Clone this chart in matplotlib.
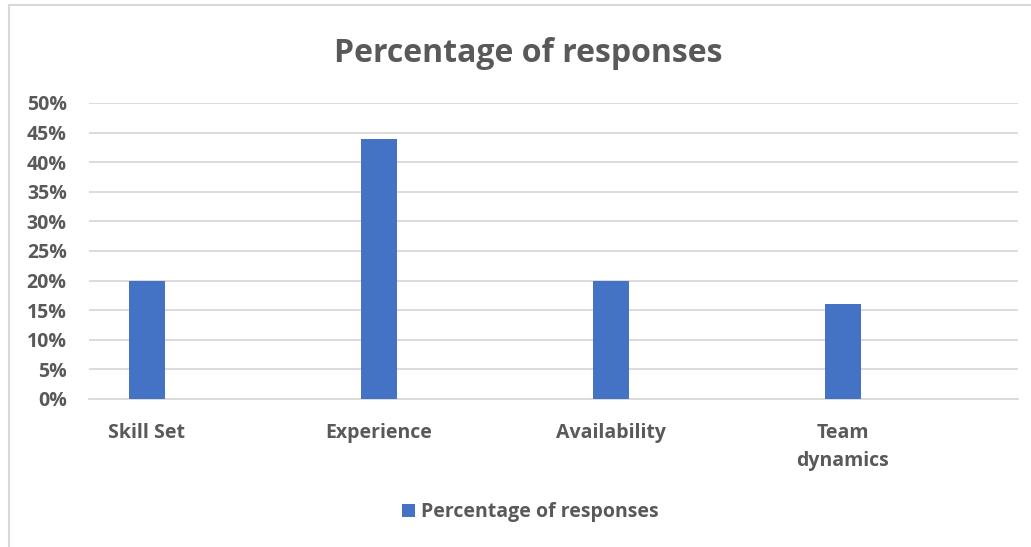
import matplotlib.pyplot as plt
from matplotlib.lines import Line2D
from matplotlib.ticker import PercentFormatter

categories = ['Skill Set', 'Experience', 'Availability', 'Team\ndynamics']
values = [0.20, 0.44, 0.20, 0.16]
series_name = 'Percentage of responses'

grey = '#595959'
blue = '#4472C4'
grid = '#d9d9d9'

plt.rcParams['font.family'] = ['Open Sans', 'DejaVu Sans']
plt.rcParams['font.weight'] = 'bold'

fig = plt.figure(figsize=(10.31, 5.47), dpi=100)
ax = fig.add_axes([89 / 1031, 1 - 399 / 547, (1018 - 89) / 1031, (399 - 103) / 547])

x = range(len(categories))
ax.bar(x, values, width=0.155, color=blue, label=series_name, zorder=3)

ax.set_xlim(-0.25, 3.755)
ax.set_ylim(0, 0.5)
ax.set_yticks([i * 0.05 for i in range(11)])
ax.yaxis.set_major_formatter(PercentFormatter(1.0, decimals=0))
ax.set_xticks(list(x))
ax.set_xticklabels(categories, linespacing=1.56)

ax.grid(axis='y', color=grid, linewidth=1.3, zorder=0)
for s in ['top', 'right', 'left']:
    ax.spines[s].set_visible(False)
ax.spines['bottom'].set_color(grid)
ax.spines['bottom'].set_linewidth(1.3)
ax.tick_params(axis='y', length=0, pad=16, labelsize=14, labelcolor=grey)
ax.tick_params(axis='x', length=0, pad=17, labelsize=14, labelcolor=grey)
for t in ax.get_xticklabels() + ax.get_yticklabels():
    t.set_fontweight('bold')

fig.text(528 / 1031, 1 - 62 / 547, series_name, ha='center', va='baseline',
         fontsize=23, fontweight='bold', color=grey)

fig.legend(loc='center', bbox_to_anchor=(530 / 1031, 1 - 512 / 547), frameon=False,
           handlelength=0.67, handleheight=0.67, handletextpad=0.3,
           prop={'size': 14, 'weight': 'bold'}, labelcolor=grey)

# chart area border (left and top edges visible)
fig.add_artist(Line2D([8.5 / 1031, 8.5 / 1031], [0, 1 - 4.5 / 547], color=grid, linewidth=1.5))
fig.add_artist(Line2D([8.5 / 1031, 1], [1 - 4.5 / 547, 1 - 4.5 / 547], color=grid, linewidth=1.5))

fig.savefig('out.png', dpi=100)
